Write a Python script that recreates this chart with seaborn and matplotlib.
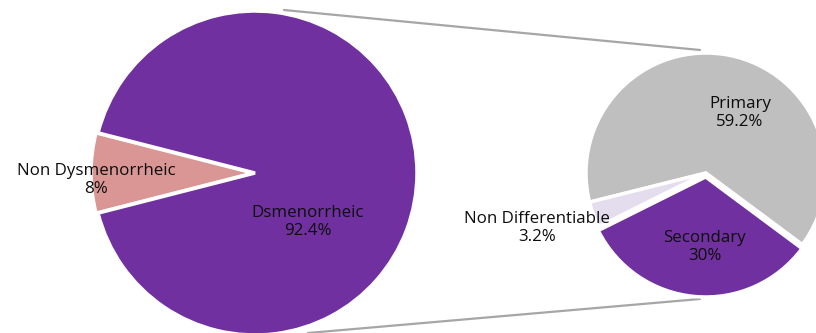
import matplotlib
matplotlib.use("Agg")
import matplotlib.pyplot as plt
import seaborn as sns

sns.set_theme(style="white")
plt.rcParams['font.family'] = ['Open Sans', 'DejaVu Sans']

# Data
main_labels = ["Non Dysmenorrheic", "Dsmenorrheic"]
main_values = [8, 92.4]
main_colors = ["#D99694", "#7030A0"]

sub_labels = ["Primary", "Non Differentiable", "Secondary"]
sub_values = [59.2, 3.2, 30]
sub_colors = ["#BFBFBF", "#E4DDEE", "#7030A0"]

W, H = 816, 333
fig = plt.figure(figsize=(W / 100, H / 100), dpi=100)
ax = fig.add_axes([0, 0, 1, 1])

def Y(y):
    return H - y

# main pie
main_share = main_values[0] / sum(main_values) * 360
ax.pie(main_values, colors=main_colors, center=(255, Y(173)), radius=162,
       startangle=180 - main_share / 2, counterclock=True,
       explode=[2, 0],
       wedgeprops=dict(edgecolor="white", linewidth=2.5), frame=True)

# sub pie
ax.pie(sub_values, colors=sub_colors, center=(706, Y(173)), radius=120,
       startangle=-36.6, counterclock=True,
       explode=[0, 0, 4],
       wedgeprops=dict(edgecolor="white", linewidth=2.5), frame=True)

ax.set_xlim(0, W)
ax.set_ylim(0, H)
ax.set_aspect("equal")
ax.axis("off")

# connector lines
ax.plot([284, 700], [Y(10), Y(50)], color="#A6A6A6", lw=1.6, zorder=0)
ax.plot([308, 700], [Y(333), Y(299)], color="#A6A6A6", lw=1.6, zorder=0)

fs = 12.2
def label(x, y, name, val):
    ax.text(x, Y(y), f"{name}\n{val}%", ha="center", va="center",
            fontsize=fs, color="#0d0d0d", linespacing=1.1)

label(96, 180, main_labels[0], f"{main_values[0]:g}")
label(308, 222, main_labels[1], f"{main_values[1]:g}")
label(740, 113, sub_labels[0], f"{sub_values[0]:g}")
label(537, 228, sub_labels[1], f"{sub_values[1]:g}")
label(705, 247, sub_labels[2], f"{sub_values[2]:g}")

fig.savefig("out.png", dpi=100)
